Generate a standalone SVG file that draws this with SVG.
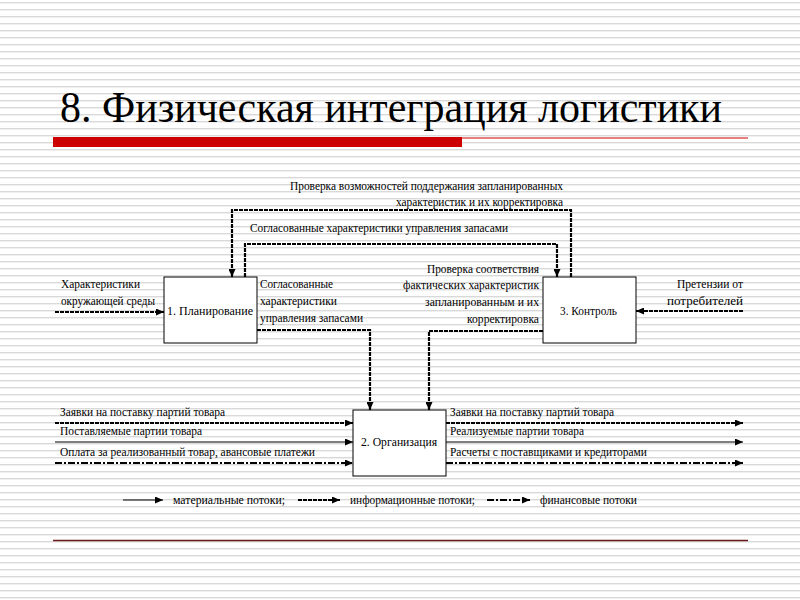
<svg xmlns="http://www.w3.org/2000/svg" width="800" height="600" viewBox="0 0 800 600">
<defs>
<pattern id="stripes" x="0" y="0" width="800" height="7" patternUnits="userSpaceOnUse">
<rect x="0" y="0" width="800" height="7" fill="#ffffff"/>
<rect x="0" y="2" width="800" height="1" fill="#d9d9d9"/>
<rect x="0" y="3" width="800" height="1" fill="#f0f0f0"/>
</pattern>
<marker id="ah" markerUnits="userSpaceOnUse" markerWidth="9" markerHeight="7" refX="8" refY="3.5" orient="auto">
<path d="M0,0 L8,3.5 L0,7 Z" fill="#000"/>
</marker>
</defs>
<style>
.t{font-family:"Liberation Serif","Times New Roman",serif;font-size:12px;fill:#000}
.box{fill:#fff;stroke:#000;stroke-width:1}
.mat{fill:none;stroke:#000;stroke-width:1.2}
.inf{fill:none;stroke:#000;stroke-width:2.2;stroke-dasharray:4 1}
.fin{fill:none;stroke:#000;stroke-width:2.2;stroke-dasharray:7 2 2 2}
</style>
<rect x="0" y="0" width="800" height="600" fill="url(#stripes)"/>
<g id="title">
<text x="60" y="122" font-family="Liberation Serif, Times New Roman, serif" font-size="44" textLength="662" lengthAdjust="spacingAndGlyphs" fill="#000">8. Физическая интеграция логистики</text>
<rect x="53" y="137" width="409" height="10" fill="#cc0000"/>
<line x1="462" y1="138" x2="748" y2="138" stroke="#cc0000" stroke-width="1"/>
<line x1="53" y1="540.5" x2="748" y2="540.5" stroke="#6b1a1a" stroke-width="1.5"/>
</g>
<g id="connectors">
<polyline class="inf" points="571,277 571,210 232,210 232,277" marker-end="url(#ah)"/>
<polyline class="inf" points="245,277 245,244 557,244 557,277" marker-end="url(#ah)"/>
<line class="inf" x1="55" y1="312" x2="164" y2="312" marker-end="url(#ah)"/>
<line class="inf" x1="743" y1="311" x2="636" y2="311" marker-end="url(#ah)"/>
<polyline class="inf" points="257,330 370,330 370,410" marker-end="url(#ah)"/>
<polyline class="inf" points="543,331 429,331 429,410" marker-end="url(#ah)"/>
<line class="inf" x1="55" y1="423" x2="353" y2="423" marker-end="url(#ah)"/>
<line class="mat" x1="55" y1="442" x2="353" y2="442" marker-end="url(#ah)"/>
<line class="fin" x1="55" y1="463" x2="353" y2="463" marker-end="url(#ah)"/>
<line class="inf" x1="446" y1="423" x2="743" y2="423" marker-end="url(#ah)"/>
<line class="mat" x1="446" y1="442" x2="743" y2="442" marker-end="url(#ah)"/>
<line class="fin" x1="446" y1="463" x2="743" y2="463" marker-end="url(#ah)"/>
</g>
<g id="labels">
<text class="t" x="290" y="190" textLength="273" lengthAdjust="spacingAndGlyphs">Проверка возможностей поддержания запланированных</text>
<text class="t" x="396" y="206" textLength="167" lengthAdjust="spacingAndGlyphs">характеристик и их корректировка</text>
<text class="t" x="250" y="232" textLength="258" lengthAdjust="spacingAndGlyphs">Согласованные характеристики управления запасами</text>
<text class="t" x="61" y="288" textLength="79" lengthAdjust="spacingAndGlyphs">Характеристики</text>
<text class="t" x="61" y="305" textLength="94" lengthAdjust="spacingAndGlyphs">окружающей среды</text>
<text class="t" x="260" y="288" textLength="73" lengthAdjust="spacingAndGlyphs">Согласованные</text>
<text class="t" x="260" y="305" textLength="77" lengthAdjust="spacingAndGlyphs">характеристики</text>
<text class="t" x="260" y="322" textLength="103" lengthAdjust="spacingAndGlyphs">управления запасами</text>
<text class="t" x="427" y="273" textLength="112" lengthAdjust="spacingAndGlyphs">Проверка соответствия</text>
<text class="t" x="403" y="289" textLength="136" lengthAdjust="spacingAndGlyphs">фактических характеристик</text>
<text class="t" x="425" y="306" textLength="114" lengthAdjust="spacingAndGlyphs">запланированным и их</text>
<text class="t" x="467" y="323" textLength="72" lengthAdjust="spacingAndGlyphs">корректировка</text>
<text class="t" x="677" y="288" textLength="66" lengthAdjust="spacingAndGlyphs">Претензии от</text>
<text class="t" x="667" y="305" textLength="76" lengthAdjust="spacingAndGlyphs">потребителей</text>
<text class="t" x="60" y="416" textLength="165" lengthAdjust="spacingAndGlyphs">Заявки на поставку партий товара</text>
<text class="t" x="60" y="435" textLength="142" lengthAdjust="spacingAndGlyphs">Поставляемые партии товара</text>
<text class="t" x="60" y="456" textLength="255" lengthAdjust="spacingAndGlyphs">Оплата за реализованный товар, авансовые платежи</text>
<text class="t" x="450" y="416" textLength="164" lengthAdjust="spacingAndGlyphs">Заявки на поставку партий товара</text>
<text class="t" x="450" y="435" textLength="134" lengthAdjust="spacingAndGlyphs">Реализуемые партии товара</text>
<text class="t" x="450" y="456" textLength="197" lengthAdjust="spacingAndGlyphs">Расчеты с поставщиками и кредиторами</text>
</g>
<g id="node-planning">
<rect class="box" x="164" y="277" width="93" height="66"/>
<text class="t" x="167" y="315" textLength="86" lengthAdjust="spacingAndGlyphs">1. Планирование</text>
</g>
<g id="node-control">
<rect class="box" x="543" y="277" width="93" height="66"/>
<text class="t" x="560" y="315" textLength="57" lengthAdjust="spacingAndGlyphs">3. Контроль</text>
</g>
<g id="node-organization">
<rect class="box" x="353" y="410" width="93" height="66"/>
<text class="t" x="361" y="446" textLength="76" lengthAdjust="spacingAndGlyphs">2. Организация</text>
</g>
<g id="legend">
<line class="mat" x1="123" y1="500" x2="163" y2="500" marker-end="url(#ah)"/>
<text class="t" x="173" y="504" textLength="112" lengthAdjust="spacingAndGlyphs">материальные потоки;</text>
<line class="inf" x1="298" y1="500" x2="340" y2="500" marker-end="url(#ah)"/>
<text class="t" x="350" y="504" textLength="125" lengthAdjust="spacingAndGlyphs">информационные потоки;</text>
<line class="fin" x1="487" y1="500" x2="530" y2="500" marker-end="url(#ah)"/>
<text class="t" x="540" y="504" textLength="97" lengthAdjust="spacingAndGlyphs">финансовые потоки</text>
</g>
</svg>
